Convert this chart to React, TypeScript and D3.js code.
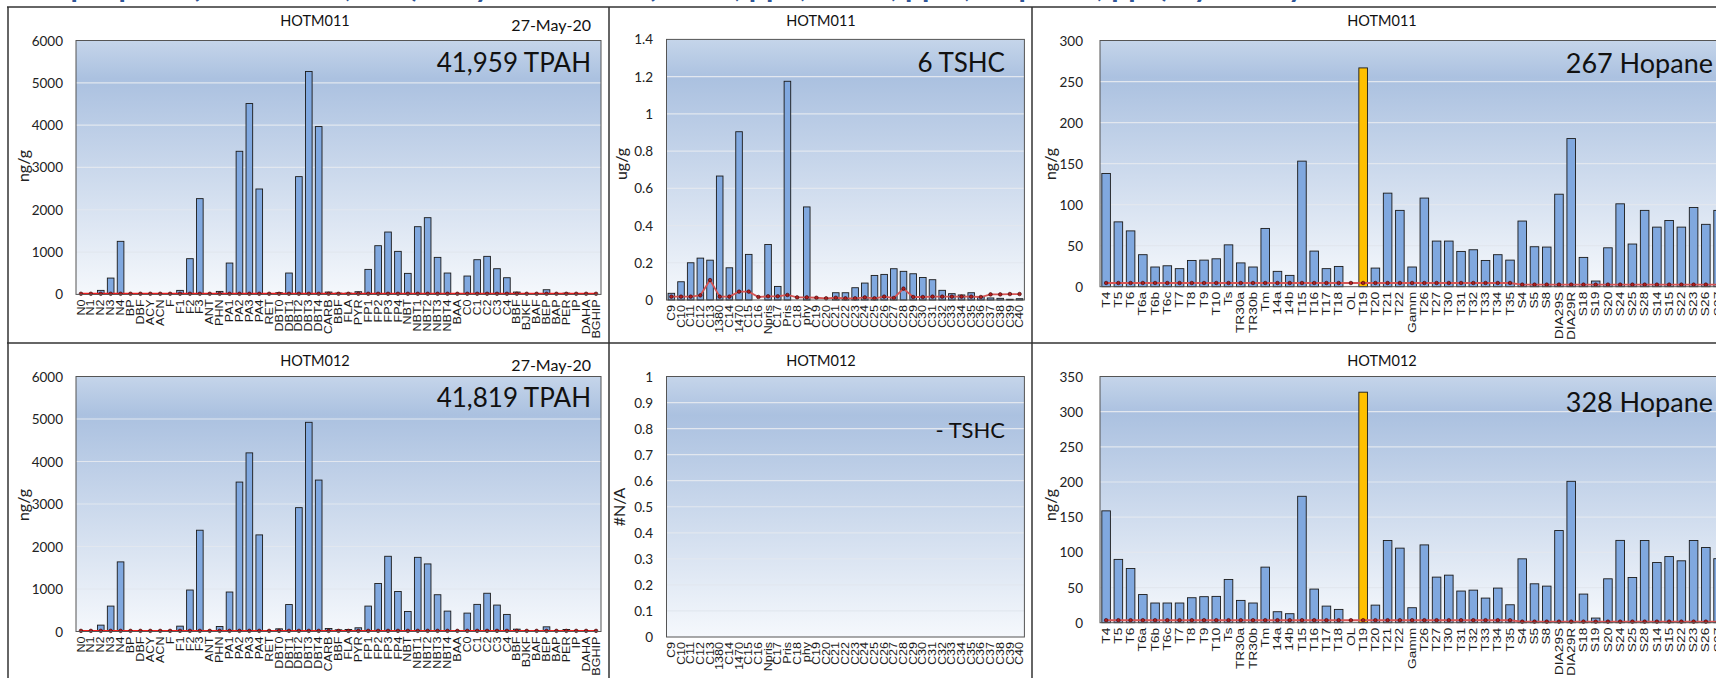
import React from "react";
import * as d3 from "d3";

// ---- data ----
const pahLabels = ["N0","N1","N2","N3","N4","BP","DBF","ACY","ACN","F","F1","F2","F3","ANT","PHN","PA1","PA2","PA3","PA4","RET","DBT0","DBT1","DBT2","DBT3","DBT4","CARB","BBF","FLA","PYR","FP1","FP2","FP3","FP4","NBT","NBT1","NBT2","NBT3","NBT4","BAA","C0","C1","C2","C3","C4","BBF","BJKF","BAF","BEP","BAP","PER","IP","DAHA","BGHIP"];
const pah011 = [0,0,95,386,1254,0,0,0,0,0,95,844,2263,0,71,741,3382,4510,2491,0,40,505,2783,5267,3966,55,30,30,63,591,1151,1474,1017,497,1600,1813,875,505,0,434,820,899,607,394,55,0,0,110,0,30,0,0,0];
const pah012 = [0,0,150,598,1638,0,0,0,0,0,126,976,2383,0,118,929,3516,4203,2273,0,63,634,2914,4922,3563,70,40,47,87,598,1130,1770,940,472,1745,1590,865,480,0,433,638,900,622,402,55,0,0,110,0,47,0,0,0];
const pahLine = [15,15,15,15,15,15,15,15,15,15,15,15,15,15,15,15,15,15,15,15,15,15,15,15,15,15,15,15,15,15,15,15,15,15,15,15,15,15,15,15,15,15,15,15,15,15,15,15,15,15,15,15,15];

const tshcLabels = ["C9","C10","C11","C12","C13","1380","C14","1470","C15","C16","Npris","C17","Pris","C18","phy","C19","C20","C21","C22","C23","C24","C25","C26","C27","C28","C29","C30","C31","C32","C33","C34","C35","C36","C37","C38","C39","C40"];
const tshc011 = [0.036,0.098,0.2,0.225,0.214,0.666,0.173,0.904,0.245,0,0.298,0.073,1.175,0,0.5,0,0,0.039,0.039,0.066,0.091,0.132,0.1375,0.168,0.154,0.141,0.121,0.109,0.052,0.034,0.027,0.039,0.018,0.011,0.009,0.004,0.007];
const tshc011Line = [0.018,0.018,0.018,0.025,0.107,0.018,0.018,0.045,0.045,0.016,0.02,0.02,0.027,0.014,0.014,0.012,0.009,0.012,0.009,0.009,0.014,0.009,0.018,0.011,0.061,0.016,0.016,0.018,0.018,0.018,0.018,0.018,0.016,0.03,0.03,0.032,0.032];

const hopLabels = ["T4","T5","T6","T6a","T6b","T6c","T7","T8","T9","T10","Ts","TR30a","TR30b","Tm","14a","14b","T15","T16","T17","T18","OL","T19","T20","T21","T22","Gamm","T26","T27","T30","T31","T32","T33","T34","T35","S4","S5","S8","DIA29S","DIA29R","S18","S19","S20","S24","S25","S28","S14","S15","S22","S23","S26","S27"];
const hop011 = [138,79,68,39,24,25.5,22,32,32.4,34,51,29,24,71,18.7,13.8,153,43.4,22,24.7,0,266.6,22.7,114,93,24,108,55.6,55.6,43,45,32,39,32.4,80,48.7,48.3,112.7,180.5,35.7,6.9,47.4,101,52,93,72.6,80.7,72.6,96.5,76,93];
const hop012 = [159,90,77,40,28,28,28,35.5,37,37.4,61.5,31.7,28,79,15.6,12.8,179.7,47.8,23.6,18.9,0,327.7,25,116.8,106,21.3,110.6,64.8,67.6,45,46.3,35,49.2,25.5,90.8,55.3,52,131,201,40.7,6.6,62.4,117,64.3,116.8,85.6,94,88,116.8,106.9,91];
const hop011Line = [4.5,4.5,4.5,4.5,4.5,4.5,4.5,4.5,4.5,4.5,4.5,4.5,4.5,4.5,4.5,4.5,4.5,4.5,4.5,4.5,4.5,4.5,4.5,4.5,4.5,4.5,4.5,4.5,4.5,4.5,4.5,4.5,4.5,4.5,2.5,2.5,2.5,2.5,2.5,2.5,2.5,2.5,2.5,2.5,2.5,2.5,2.5,2.5,2.5,2.5,2.5];
const hop012Line = [3.5,3.5,3.5,3.5,3.5,3.5,3.5,3.5,3.5,3.5,3.5,3.5,3.5,3.5,3.5,3.5,3.5,3.5,3.5,3.5,3.5,3.5,3.5,3.5,3.5,3.5,3.5,3.5,3.5,3.5,3.5,3.5,3.5,3.5,1.5,1.5,1.5,1.5,1.5,1.5,1.5,1.5,1.5,1.5,1.5,1.5,1.5,1.5,1.5,1.5,1.5];

const FONT = "Lato, 'Open Sans', sans-serif";
const XFONT = "'Liberation Sans', Arial, sans-serif";

type PanelProps = {
  left: number; right: number; top: number; bottom: number;
  labels: string[]; values: number[] | null; line: number[] | null;
  yMax: number; yStep: number; tickX: number;
  yTitle: string; yTitleX: number; yTitleY: number;
  pad: number; lineColor: string; highlight?: string; labelSize: number;
};

const Panel = (p: PanelProps) => {
  const x = d3.scaleBand<string>().domain(p.labels.map((d, i) => i + "")).range([p.left, p.right])
    .paddingInner(p.pad).paddingOuter(p.pad / 2);
  const y = d3.scaleLinear().domain([0, p.yMax]).range([p.bottom, p.top]);
  const ticks = d3.range(0, Math.round(p.yMax / p.yStep) + 1).map(i => +(i * p.yStep).toFixed(2));
  const bw = x.bandwidth();
  const cx = (i: number) => (x(i + "") as number) + bw / 2;
  const line = d3.line<number>().x((_, i) => cx(i)).y(v => y(v));

  return (
    <g>
      <rect x={p.left} y={p.top} width={p.right - p.left} height={p.bottom - p.top} fill="url(#plotbg)" />
      {ticks.slice(1, -1).map(t => (
        <line key={t} x1={p.left} x2={p.right} y1={y(t)} y2={y(t)} stroke="#e2e7ef" strokeWidth={1.2} />
      ))}
      {ticks.map(t => (
        <text key={"t" + t} x={p.tickX} y={y(t)} textAnchor="end" dominantBaseline="central"
          fontFamily={FONT} fontSize={13.5} fill="#222">{t}</text>
      ))}
      <text transform={`translate(${p.yTitleX},${p.yTitleY}) rotate(-90)`} textAnchor="middle"
        dominantBaseline="central" fontFamily={FONT} fontSize={16} fill="#222">{p.yTitle}</text>
      {p.values && p.values.map((v, i) => (
        <rect key={i} x={x(i + "")} y={y(v)} width={bw} height={y(0) - y(v)}
          fill={p.labels[i] === p.highlight ? "#ffc000" : "#80a8df"} stroke="#1a1a1a" strokeWidth={0.9} />
      ))}
      {p.line && (
        <g>
          <path d={line(p.line) || ""} fill="none" stroke={p.lineColor} strokeWidth={1.8} />
          {p.line.map((v, i) => (
            <circle key={i} cx={cx(i)} cy={y(v)} r={1.8} fill="#b02020" stroke="#300" strokeWidth={0.6} />
          ))}
        </g>
      )}
      <rect x={p.left} y={p.top} width={p.right - p.left} height={p.bottom - p.top} fill="none" stroke="#555" strokeWidth={1} />
      {p.labels.map((l, i) => (
        <text key={"x" + i} transform={`translate(${cx(i)},${p.bottom + 5}) rotate(-90) scale(1.2,1)`}
          textAnchor="end" dominantBaseline="central" fontFamily={XFONT} fontSize={p.labelSize} fill="#1a1a1a">{l}</text>
      ))}
    </g>
  );
};

const Txt = ({ x, y, s, anchor = "middle", children }: any) => (
  <text x={x} y={y} fontSize={s} textAnchor={anchor} dominantBaseline="central" fontFamily={FONT} fill="#111">{children}</text>
);

export default function App() {
  return (
    <svg width={1716} height={678} style={{ position: "absolute", left: 0, top: 0, background: "#fff" }}>
      <defs>
        <linearGradient id="plotbg" x1="0" y1="0" x2="0" y2="1">
          <stop offset="0%" stopColor="#c5d5ea" />
          <stop offset="15%" stopColor="#abc1e0" />
          <stop offset="100%" stopColor="#f5f8fc" />
        </linearGradient>
      </defs>
      <text x={14} y={-3} fontFamily={FONT} fontWeight="bold" fontSize={30} fill="#2f5597">
        Sample plots (HOTM011, 012) – Hydrocarbons (TPAH, ppb, TSHC, ppm, Hopanes, ppb) by survey
      </text>

      {/* panel frame */}
      <g stroke="#333" strokeWidth={1.5}>
        <line x1={7} x2={1716} y1={7} y2={7} />
        <line x1={7} x2={1716} y1={343} y2={343} />
        <line x1={8} x2={8} y1={7} y2={678} />
        <line x1={609} x2={609} y1={7} y2={678} />
        <line x1={1032} x2={1032} y1={7} y2={678} />
      </g>

      {/* top row */}
      <Panel left={76} right={601} top={40.5} bottom={294.4} labels={pahLabels} values={pah011} line={pahLine}
        yMax={6000} yStep={1000} tickX={63} yTitle="ng/g" yTitleX={22} yTitleY={166} pad={0.33} lineColor="#ff1a1a" labelSize={10.5} />
      <Txt x={315} y={20} s={14.5}>HOTM011</Txt>
      <Txt x={591} y={24} s={16} anchor="end">27-May-20</Txt>
      <Txt x={591} y={62} s={26} anchor="end">41,959 TPAH</Txt>

      <Panel left={666.5} right={1024.4} top={39.4} bottom={300} labels={tshcLabels} values={tshc011} line={tshc011Line}
        yMax={1.4} yStep={0.2} tickX={653} yTitle="ug/g" yTitleX={620} yTitleY={164} pad={0.32} lineColor="#d65555" labelSize={10.5} />
      <Txt x={821} y={20} s={14.5}>HOTM011</Txt>
      <Txt x={1005} y={62} s={26} anchor="end">6 TSHC</Txt>

      <Panel left={1100} right={1724.2} top={40.5} bottom={286.7} labels={hopLabels} values={hop011} line={hop011Line}
        yMax={300} yStep={50} tickX={1083} yTitle="ng/g" yTitleX={1049} yTitleY={164} pad={0.3} lineColor="#d65555" highlight="T19" labelSize={11.5} />
      <Txt x={1382} y={20} s={14.5}>HOTM011</Txt>
      <Txt x={1713} y={62} s={27} anchor="end">267 Hopane</Txt>

      {/* bottom row */}
      <Panel left={76} right={601} top={376.5} bottom={631.5} labels={pahLabels} values={pah012} line={pahLine}
        yMax={6000} yStep={1000} tickX={63} yTitle="ng/g" yTitleX={22} yTitleY={505} pad={0.33} lineColor="#ff1a1a" labelSize={10.5} />
      <Txt x={315} y={360} s={14.5}>HOTM012</Txt>
      <Txt x={591} y={364.5} s={16} anchor="end">27-May-20</Txt>
      <Txt x={591} y={397} s={26} anchor="end">41,819 TPAH</Txt>

      <Panel left={666.5} right={1024.4} top={376.5} bottom={637} labels={tshcLabels} values={null} line={null}
        yMax={1} yStep={0.1} tickX={653} yTitle="#N/A" yTitleX={618} yTitleY={507} pad={0.32} lineColor="#d65555" labelSize={10.5} />
      <Txt x={821} y={360} s={14.5}>HOTM012</Txt>
      <Txt x={1005} y={429} s={22} anchor="end">- TSHC</Txt>

      <Panel left={1100} right={1724.2} top={376.5} bottom={622.7} labels={hopLabels} values={hop012} line={hop012Line}
        yMax={350} yStep={50} tickX={1083} yTitle="ng/g" yTitleX={1049} yTitleY={505} pad={0.3} lineColor="#d65555" highlight="T19" labelSize={11.5} />
      <Txt x={1382} y={360} s={14.5}>HOTM012</Txt>
      <Txt x={1713} y={401.6} s={27} anchor="end">328 Hopane</Txt>
    </svg>
  );
}
